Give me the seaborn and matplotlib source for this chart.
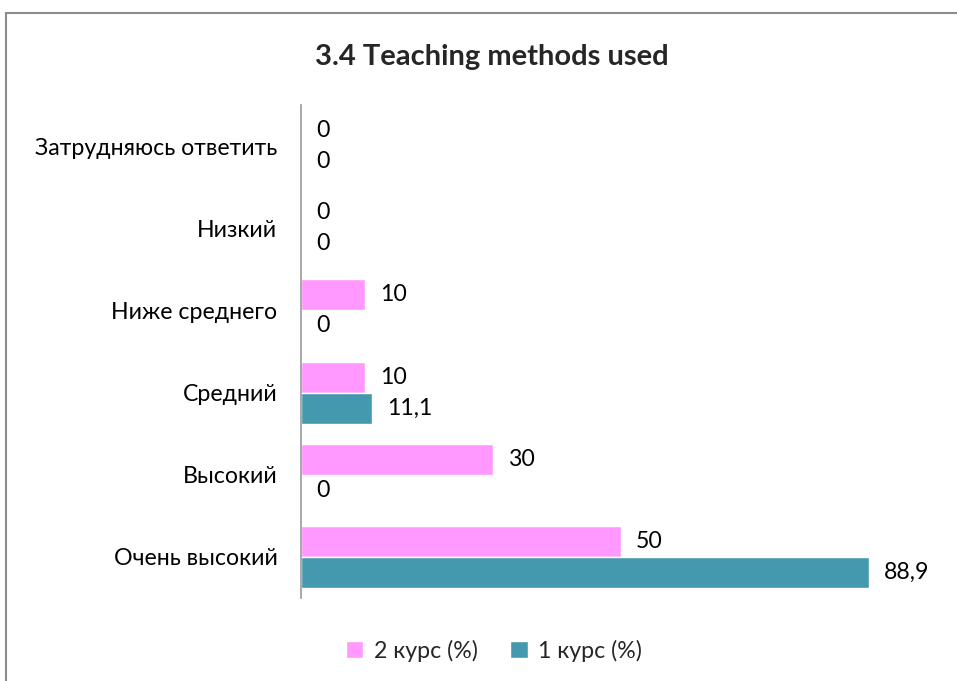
import matplotlib
matplotlib.use("Agg")
import matplotlib.pyplot as plt
import seaborn as sns
import pandas as pd
from matplotlib.patches import Rectangle

categories = ["Затрудняюсь ответить", "Низкий", "Ниже среднего", "Средний", "Высокий", "Очень высокий"]
series_names = ["2 курс (%)", "1 курс (%)"]
course2 = [0, 0, 10, 10, 30, 50]
course1 = [0, 0, 0, 11.1, 0, 88.9]
colors = ["#FF99FF", "#4499AF"]

df = pd.DataFrame({
    "cat": categories * 2,
    "series": [series_names[0]] * len(categories) + [series_names[1]] * len(categories),
    "value": course2 + course1,
})

sns.set_theme(style="white")
plt.rcParams["font.family"] = ["Lato", "DejaVu Sans"]

fig = plt.figure(figsize=(9.57, 6.81), dpi=100)
ax = fig.add_axes([301 / 957, 83 / 681, 639 / 957, 493 / 681])

sns.barplot(data=df, y="cat", x="value", hue="series", order=categories,
            hue_order=series_names, palette=colors, orient="h", width=0.755,
            saturation=1, ax=ax, legend=True)

ax.set_xlim(0, 100)
ax.set_xlabel("")
ax.set_ylabel("")
ax.set_xticks([])
ax.tick_params(axis="y", length=0, labelsize=16.7, pad=17, colors="black")
for s in ["top", "right", "bottom"]:
    ax.spines[s].set_visible(False)
ax.spines["left"].set_color("#999999")
ax.spines["left"].set_linewidth(1.2)

def fmt(v):
    if float(v).is_integer():
        return str(int(v))
    return f"{v:.1f}".replace(".", ",")

for cont in ax.containers:
    for bar in cont:
        w = bar.get_width()
        yc = bar.get_y() + bar.get_height() / 2
        ax.annotate(fmt(w), xy=(w, yc), xytext=(11, 0), textcoords="offset points",
                    ha="left", va="center", fontsize=16.7, color="black")

fig.suptitle("3.4 Teaching methods used", x=(316 + 668) / 2 / 957, y=0.935, fontsize=21,
             fontweight="bold")

leg = ax.legend(loc="center", bbox_to_anchor=(0.302, -0.1075),
                ncol=2, frameon=False, fontsize=16.7, handlelength=0.75, handleheight=0.75,
                handletextpad=0.45, columnspacing=1.4)

fig.patches.append(Rectangle((6 / 957, -0.1), 1.2, (681 - 13) / 681 + 0.1,
                             transform=fig.transFigure, fill=False,
                             edgecolor="#8c8c8c", linewidth=1.5))

fig.savefig("out.png", dpi=100)
